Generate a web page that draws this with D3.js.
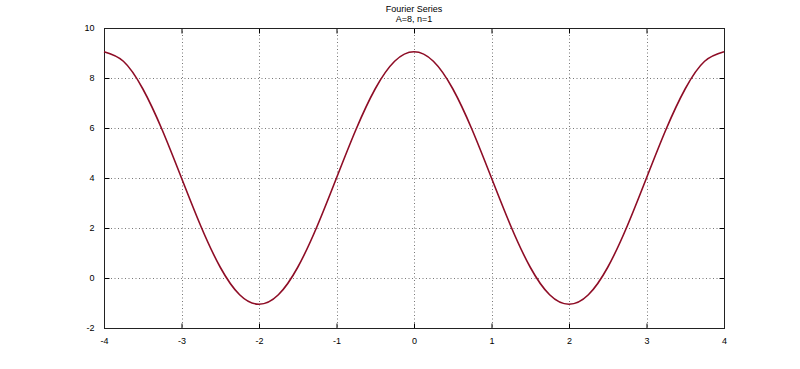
<!DOCTYPE html>
<html>
<head>
<meta charset="utf-8">
<script src="https://cdn.jsdelivr.net/npm/d3@7"></script>
<style>
body{margin:0;background:#fff;}
svg text{font-family:"Liberation Sans",Arial,sans-serif;font-size:9px;fill:#000;}
</style>
</head>
<body>
<svg id="myGraph" width="800" height="369"></svg>
<script>
// values
var xs = [-4,-3.75,-3.5,-3.25,-3,-2.75,-2.5,-2.25,-2,-1.75,-1.5,-1.25,-1,-0.75,-0.5,-0.25,
          0,0.25,0.5,0.75,1,1.25,1.5,1.75,2,2.25,2.5,2.75,3,3.25,3.5,3.75,4];
var ys = [9.05,8.67,7.57,5.93,4.0,2.07,0.43,-0.67,-1.05,-0.67,0.43,2.07,4.0,5.93,7.57,8.67,
          9.05,8.67,7.57,5.93,4.0,2.07,0.43,-0.67,-1.05,-0.67,0.43,2.07,4.0,5.93,7.57,8.67,9.05];
var xTicks = [-4,-3,-2,-1,0,1,2,3,4];
var yTicks = [-2,0,2,4,6,8,10];
var titleLines = ["Fourier Series","A=8, n=1"];

var padL = 104, padR = 724, padT = 28, padB = 328;
var svg = d3.select("#myGraph");

var x = d3.scaleLinear().domain([-4,4]).range([padL,padR]);
var y = d3.scaleLinear().domain([-2,10]).range([padB,padT]);
var fmt = function(d){return String(d);};

// grid
svg.append("g").selectAll("line").data(xTicks.slice(1,-1)).join("line")
  .attr("x1",function(d){return Math.round(x(d))+0.5;})
  .attr("x2",function(d){return Math.round(x(d))+0.5;})
  .attr("y1",padT).attr("y2",padB)
  .attr("stroke","#777").attr("stroke-width",1).attr("stroke-dasharray","1,2.5");
svg.append("g").selectAll("line").data(yTicks.slice(1,-1)).join("line")
  .attr("y1",function(d){return Math.round(y(d))+0.5;})
  .attr("y2",function(d){return Math.round(y(d))+0.5;})
  .attr("x1",padL).attr("x2",padR)
  .attr("stroke","#777").attr("stroke-width",1).attr("stroke-dasharray","1,2.5");

// axes, ticks inside
svg.append("g").attr("transform","translate(0,"+(padB+0.5)+")")
  .call(d3.axisBottom(x).tickValues(xTicks).tickSizeInner(-5).tickSizeOuter(0).tickPadding(9).tickFormat(fmt))
  .call(function(g){g.select(".domain").remove();});
svg.append("g").attr("transform","translate("+(padL+0.5)+",0)")
  .call(d3.axisLeft(y).tickValues(yTicks).tickSizeInner(-5).tickSizeOuter(0).tickPadding(10).tickFormat(fmt))
  .call(function(g){g.select(".domain").remove();});
svg.append("g").attr("transform","translate(0,"+(padT+0.5)+")")
  .call(d3.axisTop(x).tickValues(xTicks).tickSizeInner(-5).tickSizeOuter(0).tickFormat(""))
  .call(function(g){g.select(".domain").remove();});
svg.append("g").attr("transform","translate("+(padR+0.5)+",0)")
  .call(d3.axisRight(y).tickValues(yTicks).tickSizeInner(-5).tickSizeOuter(0).tickFormat(""))
  .call(function(g){g.select(".domain").remove();});
svg.selectAll(".tick text").style("font-size","9px").attr("font-family",null);

// frame
svg.append("rect").attr("x",padL+0.5).attr("y",padT+0.5)
  .attr("width",padR-padL).attr("height",padB-padT)
  .attr("fill","none").attr("stroke","#222").attr("stroke-width",1);

// curve
var line = d3.line()
  .x(function(d,i){return x(xs[i]);})
  .y(function(d){return y(d);})
  .curve(d3.curveNatural);
svg.append("path").attr("d",line(ys))
  .attr("fill","none").attr("stroke","#8e0d26").attr("stroke-width",1.6);

// title
svg.append("g").selectAll("text").data(titleLines).join("text")
  .attr("x",(padL+padR)/2).attr("y",function(d,i){return 12+i*10;})
  .attr("text-anchor","middle").text(function(d){return d;});
</script>
</body>
</html>
